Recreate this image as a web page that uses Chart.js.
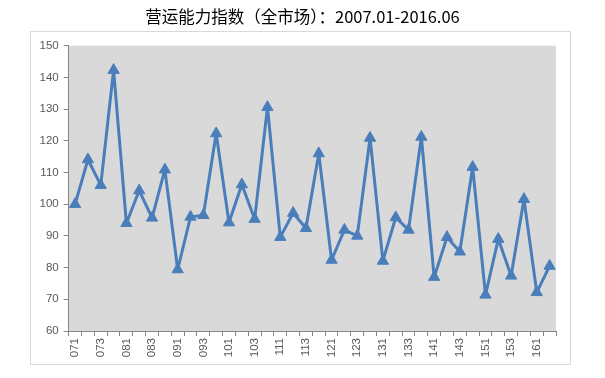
<!DOCTYPE html>
<html>
<head>
<meta charset="utf-8">
<script src="https://cdn.jsdelivr.net/npm/chart.js@4"></script>
<style>
  body { margin: 0; background: #fff; }
  #wrap { width: 605px; height: 378px; }
</style>
</head>
<body>
<div id="wrap"><canvas id="opChart" width="605" height="378"></canvas></div>
<script>
// quarters 2007Q1 .. 2016Q2
const quarters = ['071','072','073','074','081','082','083','084','091','092','093','094',
    '101','102','103','104','111','112','113','114','121','122','123','124',
    '131','132','133','134','141','142','143','144','151','152','153','154','161','162'];
const opIndex = [100, 114.1, 106, 142.3, 94, 104.3, 95.7, 110.9, 79.4, 96, 96.5, 122.3,
    94.2, 106.2, 95.3, 130.6, 89.6, 97.2, 92.4, 116, 82.4, 91.9, 90, 120.9,
    82.1, 95.8, 91.9, 121.2, 77, 89.6, 85, 111.7, 71.4, 89, 77.4, 101.6, 72.2, 80.5];
const yTicks = [60, 70, 80, 90, 100, 110, 120, 130, 140, 150];

const frame = {
    id: 'frame',
    afterLayout(chart) {
        // centre the title on the canvas rather than on the padded box
        if (chart.titleBlock) chart.titleBlock.left = 605 - chart.titleBlock.right;
    },
    beforeDraw(chart) {
        const c = chart.ctx, a = chart.chartArea;
        c.save();
        c.fillStyle = '#d9d9d9';
        c.fillRect(a.left, a.top, a.right - a.left, a.bottom - a.top);
        c.strokeStyle = '#d9d9d9';
        c.lineWidth = 1;
        c.strokeRect(30.5, 31.5, 540, 333);
        c.restore();
    }
};

const ctx = document.getElementById('opChart').getContext('2d');
const chart = new Chart(ctx, {
    type: 'line',
    data: {
        labels: quarters,
        datasets: [{
            label: '营运能力指数',
            data: opIndex,
            borderColor: '#4a7ebb',
            backgroundColor: '#4a7ebb',
            borderWidth: 3,
            borderJoinStyle: 'round',
            pointStyle: 'triangle',
            pointRadius: 6.5,
            pointBorderWidth: 1,
            tension: 0
        }]
    },
    options: {
        responsive: false,
        animation: false,
        layout: { padding: { left: 31, right: 49, top: 0, bottom: 10 } },
        plugins: {
            legend: { display: false },
            tooltip: { enabled: false },
            title: {
                display: true,
                text: '营运能力指数（全市场）：2007.01-2016.06',
                color: '#000',
                font: { family: '"Noto Sans CJK SC", "Microsoft YaHei", sans-serif', size: 16.5, weight: 'normal', lineHeight: 1.2 },
                padding: { top: 7, bottom: 18.9 }
            }
        },
        scales: {
            x: {
                offset: true,
                grid: { offset: true, drawOnChartArea: false, color: '#868686', tickLength: 5 },
                border: { color: '#868686' },
                afterFit(s) { s.height = 37; },
                ticks: {
                    autoSkip: false,
                    maxRotation: 90,
                    minRotation: 90,
                    padding: 2,
                    color: '#595959',
                    font: { family: '"Liberation Sans", Arial, sans-serif', size: 11.5 },
                    callback(v, i) { return i % 2 === 0 ? quarters[i] : ''; }
                }
            },
            y: {
                min: 60,
                max: 150,
                afterFit(s) { s.width = 37.7; },
                afterBuildTicks(s) { s.ticks = yTicks.map(v => ({ value: v })); },
                grid: { drawOnChartArea: false, color: '#868686', tickLength: 5 },
                border: { color: '#868686' },
                ticks: {
                    padding: 5,
                    color: '#595959',
                    font: { family: '"Liberation Sans", Arial, sans-serif', size: 11.5 }
                }
            }
        }
    },
    plugins: [frame]
});
</script>
</body>
</html>
